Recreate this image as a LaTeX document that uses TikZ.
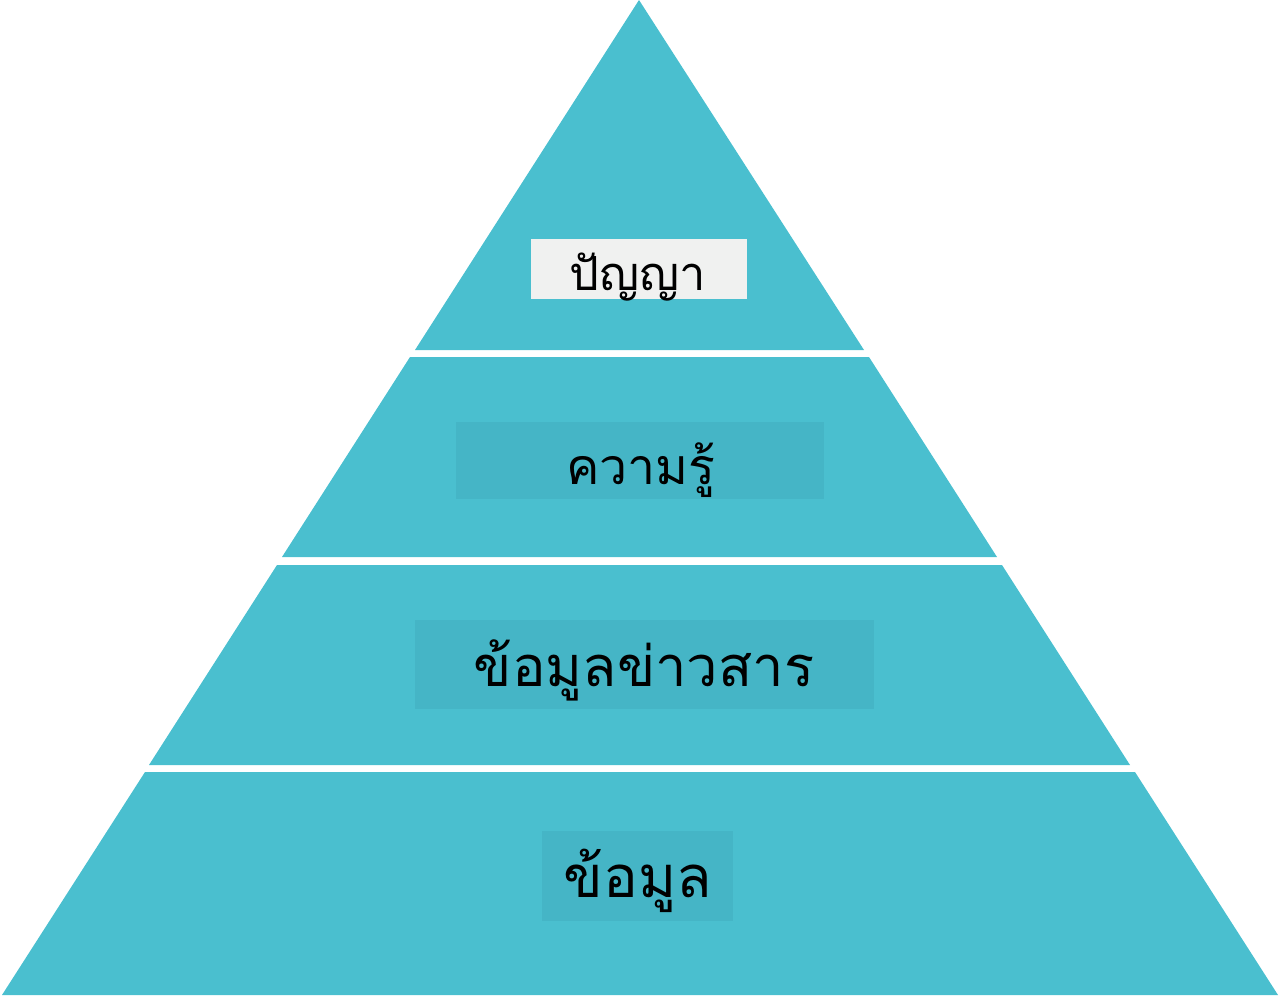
\documentclass[tikz,border=0pt]{standalone}
\usepackage{fontspec}
\newfontfamily\thaifont[Script=Thai]{Loma}
\definecolor{teal1}{HTML}{4ABFCF}
\definecolor{teal2}{HTML}{45B5C6}
\definecolor{paleg}{HTML}{F0F1F0}
\tikzset{
  band/.style={fill=teal1, draw=none},
  box/.style={draw=none, inner sep=0pt, anchor=center},
  lbl/.style={draw=none, inner sep=0pt, font=\thaifont, text=black, anchor=base},
}
\begin{document}
\begin{tikzpicture}[x=1pt,y=-1pt]
\useasboundingbox (0,0) rectangle (1280,998);
% bands
\fill[band] (639,0) -- (864,350) -- (415,350) -- cycle;
\fill[band] (410,357) -- (869,357) -- (997,557) -- (282,557) -- cycle;
\fill[band] (277,565) -- (1002,565) -- (1130,765) -- (149,765) -- cycle;
\fill[band] (145,772) -- (1135,772) -- (1278,995) -- (2,995) -- cycle;
% label boxes
\node[box, fill=paleg, minimum width=216, minimum height=60] (b1) at (639,269) {};
\node[box, fill=teal2, minimum width=368, minimum height=77] (b2) at (640,460.5) {};
\node[box, fill=teal2, minimum width=459, minimum height=89] (b3) at (644.5,664) {};
\node[box, fill=teal2, minimum width=191, minimum height=90] (b4) at (637.5,876) {};
% texts
\node[lbl, font=\thaifont\fontsize{47}{52}\selectfont] (t1) at (638,290) {ปัญญา};
\node[lbl, font=\thaifont\fontsize{50}{56}\selectfont] (t2) at (641,484) {ความรู้};
\node[lbl, font=\thaifont\fontsize{56}{62}\selectfont] (t3) at (644,686) {ข้อมูลข่าวสาร};
\node[lbl, font=\thaifont\fontsize{58}{64}\selectfont] (t4) at (638,897) {ข้อมูล};
\end{tikzpicture}
\end{document}
